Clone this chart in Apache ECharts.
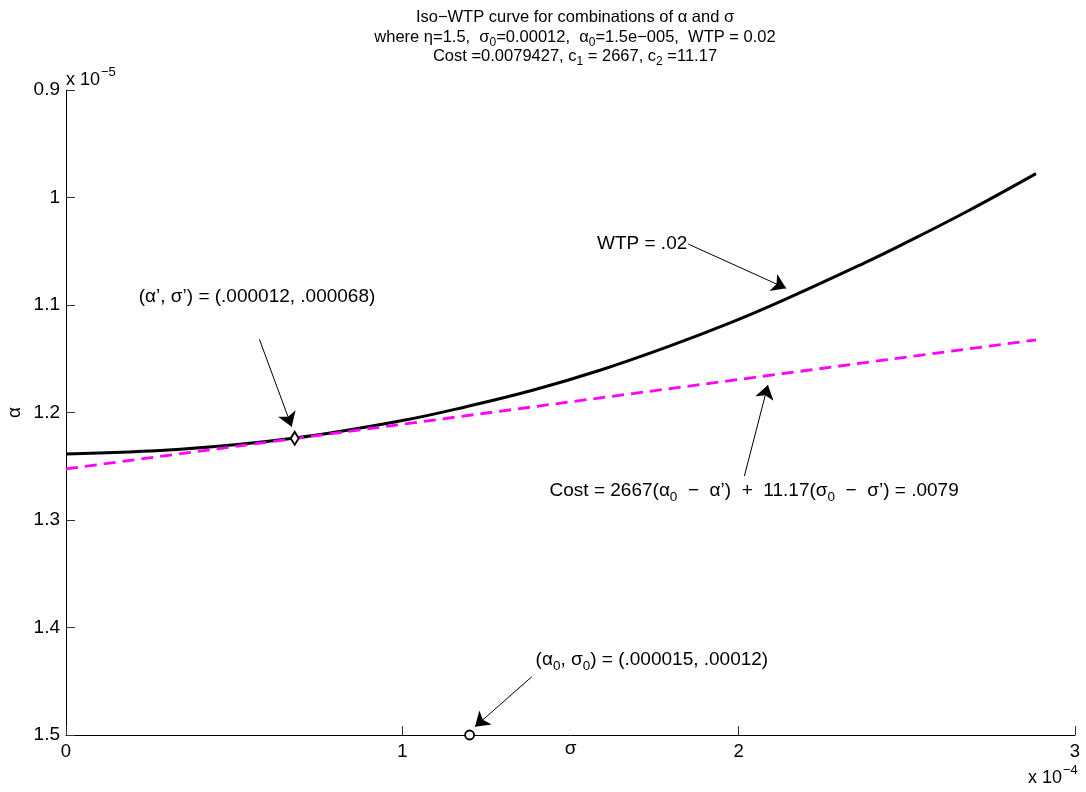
<!DOCTYPE html>
<html>
<head>
<meta charset="utf-8">
<script src="https://cdn.jsdelivr.net/npm/echarts@6/dist/echarts.min.js"></script>
<style>html,body{margin:0;padding:0;background:#fff}#c{width:1086px;height:792px}</style>
</head>
<body>
<div id="c"></div>
<script>
// sigma in units of 1e-4, alpha in units of 1e-5
const sigmaCurve = [0, 0.34, 0.675, 1.0, 1.19, 1.39, 1.59, 1.79, 1.98, 2.14, 2.37, 2.48, 2.68, 2.884];
const alphaCurve = [1.2385, 1.2342, 1.2240, 1.2075, 1.1946, 1.1791, 1.1605, 1.1388, 1.1160, 1.0946, 1.0615, 1.0448, 1.0128, 0.9778];
const sigmaCost = [0, 2.884];
const alphaCost = [1.2525, 1.1325];
const tangentPoint = [0.68, 1.224];
const originPoint = [1.2, 1.5];
const xTicks = [0, 1, 2, 3];
const yTicks = [0.9, 1.0, 1.1, 1.2, 1.3, 1.4, 1.5];

// annotations: [textSigma, textAlpha], arrow from -> to
const annTextPos = [[0.568, 1.0926], [1.713, 1.0433], [2.046, 1.273], [1.742, 1.4302]];
const annTexts = [
  '{n|(α’, σ’) = (.000012, .000068)}',
  '{n|WTP = .02}',
  '{n|Cost = 2667(α}{s|0}{n|  −  α’)  +  11.17(σ}{s|0}{n|  −  σ’) = .0079}',
  '{n|(α}{s|0}{n|, σ}{s|0}{n|) = (.000015, .00012)}'
];
const arrowFrom = [[0.575, 1.1319], [1.850, 1.0433], [2.017, 1.2591], [1.385, 1.4458]];
const arrowTo = [[0.671, 1.2132], [2.141, 1.0845], [2.087, 1.1744], [1.216, 1.4923]];

const FONT = "'Liberation Sans', Arial, Helvetica, sans-serif";
const annRich = {
  n: {fontSize: 19, fontFamily: FONT, color: '#000', lineHeight: 22},
  s: {fontSize: 13.5, fontFamily: FONT, color: '#000', lineHeight: 22, padding: [12, 0, 0, 0]}
};
const titleRich = {
  n: {fontSize: 16.5, fontFamily: FONT, color: '#000', lineHeight: 19.5},
  s: {fontSize: 12, fontFamily: FONT, color: '#000', lineHeight: 19.5, padding: [10, 0, 0, 0]}
};

const chart = echarts.init(document.getElementById('c'), null, {renderer: 'canvas'});

const curveData = sigmaCurve.map((s, i) => [s, alphaCurve[i]]);
const costData = sigmaCost.map((s, i) => [s, alphaCost[i]]);

const option = {
  backgroundColor: '#fff',
  animation: false,
  title: {
    text: '{n|Iso−WTP curve for combinations of α and σ}\n' +
          '{n|where η=1.5,  σ}{s|0}{n|=0.00012,  α}{s|0}{n|=1.5e−005,  WTP = 0.02}\n' +
          '{n|Cost =0.0079427, c}{s|1}{n| = 2667, c}{s|2}{n| =11.17}',
    left: 570, top: 3, textAlign: 'center',
    textStyle: {rich: titleRich, fontSize: 16.5, fontFamily: FONT, color: '#000', fontWeight: 'normal'}
  },
  grid: {left: 66, right: 11, top: 90, bottom: 57, containLabel: false, outerBoundsMode: 'none'},
  xAxis: {
    type: 'value', min: xTicks[0], max: xTicks[xTicks.length - 1], interval: 1,
    name: 'σ', nameLocation: 'middle', nameGap: 4, nameMoveOverlap: false,
    nameTextStyle: {fontSize: 19, fontFamily: FONT, color: '#000', verticalAlign: 'top'},
    axisLine: {show: true, onZero: false, lineStyle: {color: '#000', width: 1}},
    axisTick: {show: true, inside: true, length: 9, lineStyle: {color: '#333', width: 1}},
    axisLabel: {fontSize: 18.5, fontFamily: FONT, color: '#000', margin: 7,
      formatter: v => String(parseFloat(v.toFixed(2)))},
    splitLine: {show: false}
  },
  yAxis: {
    type: 'value', inverse: true, min: yTicks[0], max: yTicks[yTicks.length - 1], interval: 0.1,
    name: 'α', nameLocation: 'middle', nameGap: 42, nameRotate: 90, nameMoveOverlap: false,
    nameTextStyle: {fontSize: 19, fontFamily: FONT, color: '#000'},
    axisLine: {show: true, onZero: false, lineStyle: {color: '#000', width: 1}},
    axisTick: {show: true, inside: true, length: 9, lineStyle: {color: '#333', width: 1}},
    axisLabel: {fontSize: 19, fontFamily: FONT, color: '#000', margin: 6,
      formatter: v => String(parseFloat(v.toFixed(2)))},
    splitLine: {show: false}
  },
  graphic: [
    {type: 'text', x: 66, y: 80, silent: true,
      style: {text: '{n|x 10}{p|−5}', textVerticalAlign: 'middle',
        rich: {n: {fontSize: 18, fontFamily: FONT, color: '#000', lineHeight: 22},
               p: {fontSize: 13, fontFamily: FONT, color: '#000', lineHeight: 22, padding: [0, 0, 16, 1]}}}},
    {type: 'text', x: 1028, y: 778, silent: true,
      style: {text: '{n|x 10}{p|−4}', textVerticalAlign: 'middle',
        rich: {n: {fontSize: 18, fontFamily: FONT, color: '#000', lineHeight: 22},
               p: {fontSize: 13, fontFamily: FONT, color: '#000', lineHeight: 22, padding: [0, 0, 16, 1]}}}}
  ],
  series: [
    {
      type: 'line', data: curveData, smooth: 0.4, symbol: 'none', silent: true,
      lineStyle: {color: '#000', width: 3}, z: 2
    },
    {
      type: 'line', data: costData, symbol: 'none', silent: true,
      lineStyle: {color: '#ff00ff', width: 2.8, type: [12, 7]}, z: 3
    },
    {
      type: 'scatter', data: [tangentPoint], symbol: 'diamond', symbolSize: [8, 13], silent: true,
      itemStyle: {color: '#fff', borderColor: '#000', borderWidth: 2, opacity: 1}, z: 5
    },
    {
      type: 'scatter', data: [originPoint], symbol: 'circle', symbolSize: 9, silent: true,
      itemStyle: {color: '#fff', borderColor: '#000', borderWidth: 1.8, opacity: 1}, z: 5, clip: false
    },
    {
      type: 'scatter', symbolSize: 0, silent: true, z: 6,
      itemStyle: {opacity: 1},
      data: annTextPos.map((p, i) => ({
        value: p,
        label: {show: true, position: 'inside', formatter: annTexts[i], rich: annRich,
          align: 'center', verticalAlign: 'middle', opacity: 1}
      })),
      markLine: {
        silent: true, animation: false,
        symbol: ['none', 'arrow'], symbolSize: 14,
        label: {show: false},
        lineStyle: {color: '#000', width: 1, type: 'solid', opacity: 1},
        itemStyle: {color: '#000'},
        emphasis: {disabled: true},
        data: arrowFrom.map((f, i) => [{coord: f}, {coord: arrowTo[i]}])
      }
    }
  ]
};
chart.setOption(option);
</script>
</body>
</html>
